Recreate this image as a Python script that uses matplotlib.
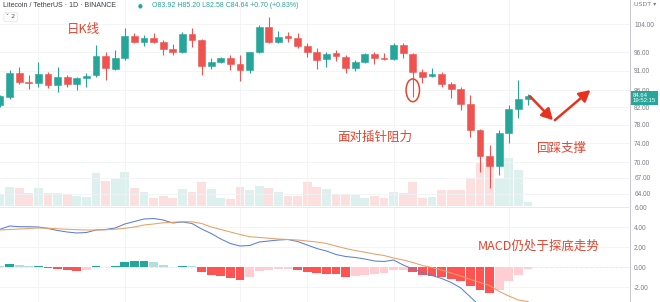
import matplotlib
matplotlib.use("Agg")
import matplotlib.pyplot as plt
import matplotlib.patches as mpatches
import matplotlib.transforms as mtransforms
from matplotlib.ticker import NullLocator

# LTC/USDT daily candles, oldest first
opens = [82.5, 84.4, 90.5, 88.2, 87.8, 90.1, 87.3, 89.5, 87.6, 89.0,
         89.9, 94.9, 91.45, 94.3, 100.5, 98.7, 99.85, 98.7, 96.8, 96.1,
         101.1, 99.35, 92.2, 93.4, 94.45, 92.7, 91.2, 95.9, 103.0, 98.7,
         100.5, 99.85, 97.7, 96.1, 94.0, 95.7, 94.7, 91.8, 93.4, 95.45,
         94.3, 94.0, 97.9, 95.45, 90.75, 89.65, 90.1, 87.5, 86.4, 82.75,
         76.8, 71.3, 69.2, 76.2, 81.6, 83.92]
highs = [85.0, 91.2, 92.1, 89.9, 93.4, 90.75, 92.1, 89.9, 89.5, 90.3,
         97.9, 96.1, 96.55, 102.7, 101.3, 100.8, 101.4, 99.35, 98.1, 101.7,
         102.7, 99.5, 94.3, 94.7, 95.2, 95.2, 96.1, 103.7, 106.0, 102.0,
         101.7, 101.4, 98.5, 97.0, 96.1, 96.55, 95.2, 93.8, 95.7, 96.1,
         95.7, 98.4, 98.4, 95.7, 91.4, 91.6, 90.75, 88.2, 86.9, 84.9,
         77.0, 73.6, 76.8, 82.5, 88.6, 85.20]
lows = [82.0, 83.9, 87.6, 86.3, 86.9, 86.6, 85.7, 86.9, 86.0, 86.9,
        89.5, 88.6, 91.2, 93.8, 98.4, 97.7, 98.4, 95.2, 95.2, 95.8,
        97.3, 89.9, 91.4, 92.95, 91.2, 88.4, 90.3, 95.7, 98.4, 98.4,
        98.9, 97.0, 94.6, 91.4, 91.9, 93.6, 90.3, 91.0, 93.1, 92.75,
        93.8, 93.8, 94.3, 84.4, 87.8, 89.5, 86.9, 84.1, 81.3, 75.25,
        68.2, 65.0, 67.55, 73.9, 79.4, 82.58]
closes = [84.6, 90.5, 88.2, 87.8, 90.1, 87.3, 89.5, 87.6, 89.0, 89.7,
          94.9, 91.6, 94.3, 100.5, 98.7, 99.85, 98.7, 96.7, 96.1, 101.1,
          99.35, 92.2, 93.4, 94.3, 92.75, 91.2, 95.9, 103.0, 98.7, 100.3,
          100.0, 97.7, 96.1, 93.8, 95.45, 94.9, 91.6, 93.2, 95.4, 94.3,
          94.0, 97.9, 95.7, 90.75, 89.5, 90.1, 87.6, 86.4, 82.75, 76.8,
          71.3, 69.2, 76.2, 81.6, 83.94, 84.64]
volumes = [11.7, 19.3, 18.3, 12.7, 17.7, 12.7, 13.3, 11.7, 10.3, 9.3,
           32.7, 25.0, 27.3, 34.3, 18.3, 14.3, 8.3, 10.0, 8.3, 16.7,
           14.0, 24.0, 16.7, 8.3, 6.7, 19.0, 15.7, 19.7, 17.7, 14.3,
           10.3, 10.3, 24.0, 19.0, 17.3, 12.3, 12.3, 10.7, 8.3, 10.0,
           8.3, 14.3, 13.3, 24.3, 8.3, 9.0, 15.7, 15.7, 16.5, 28.3,
           43.0, 47.0, 28.0, 48.0, 36.0, 4.0]

# MACD(12, 26, 9)
macd_line = [3.77, 4.1, 4.03, 4.03, 4.0, 3.85, 3.65, 3.5, 3.4, 3.45,
             3.7, 3.75, 3.9, 4.3, 4.55, 4.8, 4.85, 4.7, 4.4, 4.5,
             4.35, 3.8, 3.35, 2.8, 2.35, 2.1, 2.15, 2.5, 2.6, 2.7,
             2.75, 2.55, 2.2, 1.85, 1.6, 1.25, 1.05, 0.95, 0.8, 0.6,
             0.55, 0.7, 0.2, -0.2, -0.55, -0.85, -1.15, -1.55, -2.1, -3.0,
             -3.9, -4.4, -4.8, -4.3, -4.1, -3.6]
signal_line = [3.7, 3.75, 3.8, 3.85, 3.9, 3.88, 3.82, 3.77, 3.73, 3.7,
               3.7, 3.72, 3.78, 3.87, 4.0, 4.2, 4.3, 4.42, 4.48, 4.53,
               4.52, 4.35, 4.0, 3.75, 3.5, 3.25, 3.03, 2.95, 2.88, 2.8,
               2.75, 2.7, 2.6, 2.5, 2.35, 2.1, 1.85, 1.65, 1.48, 1.3,
               1.15, 0.9, 0.7, 0.45, 0.15, -0.05, -0.3, -0.6, -0.9, -1.25,
               -1.55, -1.85, -2.45, -2.9, -3.3, -3.45]
macd_hist = [0.1, 0.28, 0.17, 0.07, 0.13, -0.12, -0.15, -0.33, -0.35, -0.27,
             0.07, 0.03, 0.07, 0.47, 0.57, 0.63, 0.47, 0.23, 0.03, 0.13,
             0.07, -0.5, -0.83, -0.93, -1.1, -1.33, -1.0, -0.43, -0.33, -0.23,
             -0.17, -0.27, -0.5, -0.62, -0.7, -0.74, -1.0, -0.93, -0.77, -0.67,
             -0.6, -0.33, -0.27, -0.53, -0.77, -0.87, -1.0, -1.2, -1.43, -1.87,
             -2.33, -2.6, -2.27, -1.43, -0.77, -0.17]

price_ticks = [64, 67, 70, 74, 78, 82, 86, 91, 96, 104]
macd_ticks = [-2, 0, 2, 4, 6]
grid_days = [4, 13, 25, 32, 41, 53]

UP = "#26a69a"
DOWN = "#ef5350"
NOTE = "#e0452f"
AXIS_TXT = "#787b86"
CJK = ["Noto Sans CJK SC", "DejaVu Sans"]

fig = plt.figure(figsize=(6.6, 3.02), dpi=100)
fig.patch.set_facecolor("white")

W, H = 660.0, 302.0
plot_w = 630.0 / W
price_rect = [0, 96.0 / H, plot_w, 206.0 / H]
macd_rect = [0, 0, plot_w, 95.0 / H]
n = len(closes)
xs = list(range(n))
xlim = (0, 65.625)

# volume sits underneath the candles
ax_vol = fig.add_axes(price_rect)
ax_vol.set_xlim(*xlim)
ax_vol.set_ylim(0, 206)
ax_vol.axis("off")
vol_colors = [(0.149, 0.651, 0.604, 0.16) if c >= o else (0.937, 0.325, 0.314, 0.18)
              for o, c in zip(opens, closes)]
ax_vol.bar(xs, volumes, width=0.9, color=vol_colors, linewidth=0)

ax = fig.add_axes(price_rect)
ax.patch.set_alpha(0)
ax.set_xlim(*xlim)
ax.set_yscale("log")
ax.set_ylim(61.8, 111.4)
ax.yaxis.tick_right()
ax.set_yticks(price_ticks)
ax.set_yticklabels([f"{t:.2f}" for t in price_ticks])
ax.yaxis.set_minor_locator(NullLocator())
ax.set_xticks([])
ax.tick_params(axis="y", length=0, pad=3, labelsize=4.7, labelcolor=AXIS_TXT)
for lbl in ax.get_yticklabels():
    lbl.set_family("Liberation Sans")
for s in ["top", "left", "bottom"]:
    ax.spines[s].set_visible(False)
ax.spines["right"].set_color("#c9cbd1")
ax.spines["right"].set_linewidth(0.8)
ax.grid(axis="y", color="#f1f2f5", linewidth=0.6, zorder=0)
for d in grid_days:
    ax.axvline(d, color="#f1f2f5", linewidth=0.6, zorder=0)

for i, (o, h, l, c) in enumerate(zip(opens, highs, lows, closes)):
    col = UP if c >= o else DOWN
    ax.vlines(i, l, h, color=col, linewidth=0.8, zorder=2)
    ax.bar(i, abs(c - o), bottom=min(o, c), width=0.72, color=col,
           edgecolor=col, linewidth=0.4, zorder=3)

# last price tag on the scale
tag_tr = mtransforms.offset_copy(
    mtransforms.blended_transform_factory(ax.transAxes, ax.transData),
    fig=fig, x=3, y=-2, units="dots")
ax.text(1, closes[-1], f"{closes[-1]:.2f}\n19:52:15", transform=tag_tr,
        ha="left", va="center", fontsize=4.3, color="white", linespacing=1.0,
        family="Liberation Sans", clip_on=False, zorder=10,
        bbox=dict(boxstyle="square,pad=0.35", fc=UP, ec="none"))

# notes on the price pane
ax.add_patch(mpatches.Ellipse((43, lows[43] * 1.02), width=1.4, height=5.6,
                              fill=False, ec=NOTE, lw=1.1, zorder=6))
arrow = dict(arrowstyle="-|>,head_length=0.55,head_width=0.3", color="#e8321e",
             lw=1.8, shrinkA=0, shrinkB=0, mutation_scale=12)
ax.annotate("", xy=(57.6, 79.0), xytext=(55.2, 84.6), arrowprops=arrow, zorder=6)
ax.annotate("", xy=(61.5, 86.1), xytext=(57.8, 79.0), arrowprops=arrow, zorder=6)

fig.text(67 / W, 1 - 30 / H, "日K线", fontsize=9, color=NOTE, family=CJK, va="center")
fig.text(337 / W, 1 - 137 / H, "面对插针阻力", fontsize=9, color=NOTE, family=CJK, va="center")
fig.text(537 / W, 1 - 148 / H, "回踩支撑", fontsize=9, color=NOTE, family=CJK, va="center")
fig.text(478 / W, 1 - 246 / H, "MACD仍处于探底走势", fontsize=9, color=NOTE, family=CJK, va="center")

# header
fig.text(3 / W, 1 - 5.5 / H, "Litecoin / TetherUS · 1D · BINANCE", fontsize=5,
         color="#3b3e48", family="Liberation Sans", va="center")
fig.text(140 / W, 1 - 5.5 / H, "●", fontsize=4, color=UP, va="center", ha="center")
fig.text(152 / W, 1 - 5.5 / H,
         f"O{opens[-1]:.2f} H{highs[-1]:.2f} L{lows[-1]:.2f} C{closes[-1]:.2f} "
         f"+{closes[-1] - closes[-2]:.2f} (+{(closes[-1] / closes[-2] - 1) * 100:.2f}%)",
         fontsize=5, color=UP, family="Liberation Sans", va="center")
fig.text(6 / W, 1 - 17 / H, "˅ 2", fontsize=4.5, color="#50535e", va="center",
         bbox=dict(boxstyle="round,pad=0.35,rounding_size=0.3", fc="white",
                   ec="#e0e3eb", lw=0.5))
fig.text(634 / W, 1 - 4 / H, "USDT ▾", fontsize=4.5, color=AXIS_TXT,
         family="DejaVu Sans", va="center")

# MACD pane
ax_m = fig.add_axes(macd_rect)
ax_m.set_xlim(*xlim)
ax_m.set_ylim(-3.5, 6.0)
hist_colors = []
for i, v in enumerate(macd_hist):
    prev = macd_hist[i - 1] if i > 0 else v
    if v >= 0:
        hist_colors.append("#26a69a" if v > prev else "#b2dfdb")
    else:
        hist_colors.append("#ff5252" if v < prev else "#ffcdd2")
ax_m.bar(xs, macd_hist, width=0.9, color=hist_colors, linewidth=0, zorder=2)
ax_m.plot(xs, macd_line, color="#5b7fd6", linewidth=0.75, zorder=3)
ax_m.plot(xs, signal_line, color="#e9a062", linewidth=0.75, zorder=3)
ax_m.axhline(0, color="#b2b5be", linewidth=0.6, linestyle=(0, (3, 3)), zorder=1)
ax_m.yaxis.tick_right()
ax_m.set_yticks(macd_ticks)
ax_m.set_yticklabels([f"{t:.2f}" for t in macd_ticks])
ax_m.set_xticks([])
ax_m.tick_params(axis="y", length=0, pad=3, labelsize=4.7, labelcolor=AXIS_TXT)
for lbl in ax_m.get_yticklabels():
    lbl.set_family("Liberation Sans")
for s in ["left", "bottom"]:
    ax_m.spines[s].set_visible(False)
ax_m.spines["top"].set_color("#e6e8ee")
ax_m.spines["top"].set_linewidth(0.6)
ax_m.spines["right"].set_color("#c9cbd1")
ax_m.spines["right"].set_linewidth(0.8)
ax_m.grid(axis="y", color="#f1f2f5", linewidth=0.6, zorder=0)
for d in grid_days:
    ax_m.axvline(d, color="#f1f2f5", linewidth=0.6, zorder=0)

fig.savefig("out.png", dpi=100)
